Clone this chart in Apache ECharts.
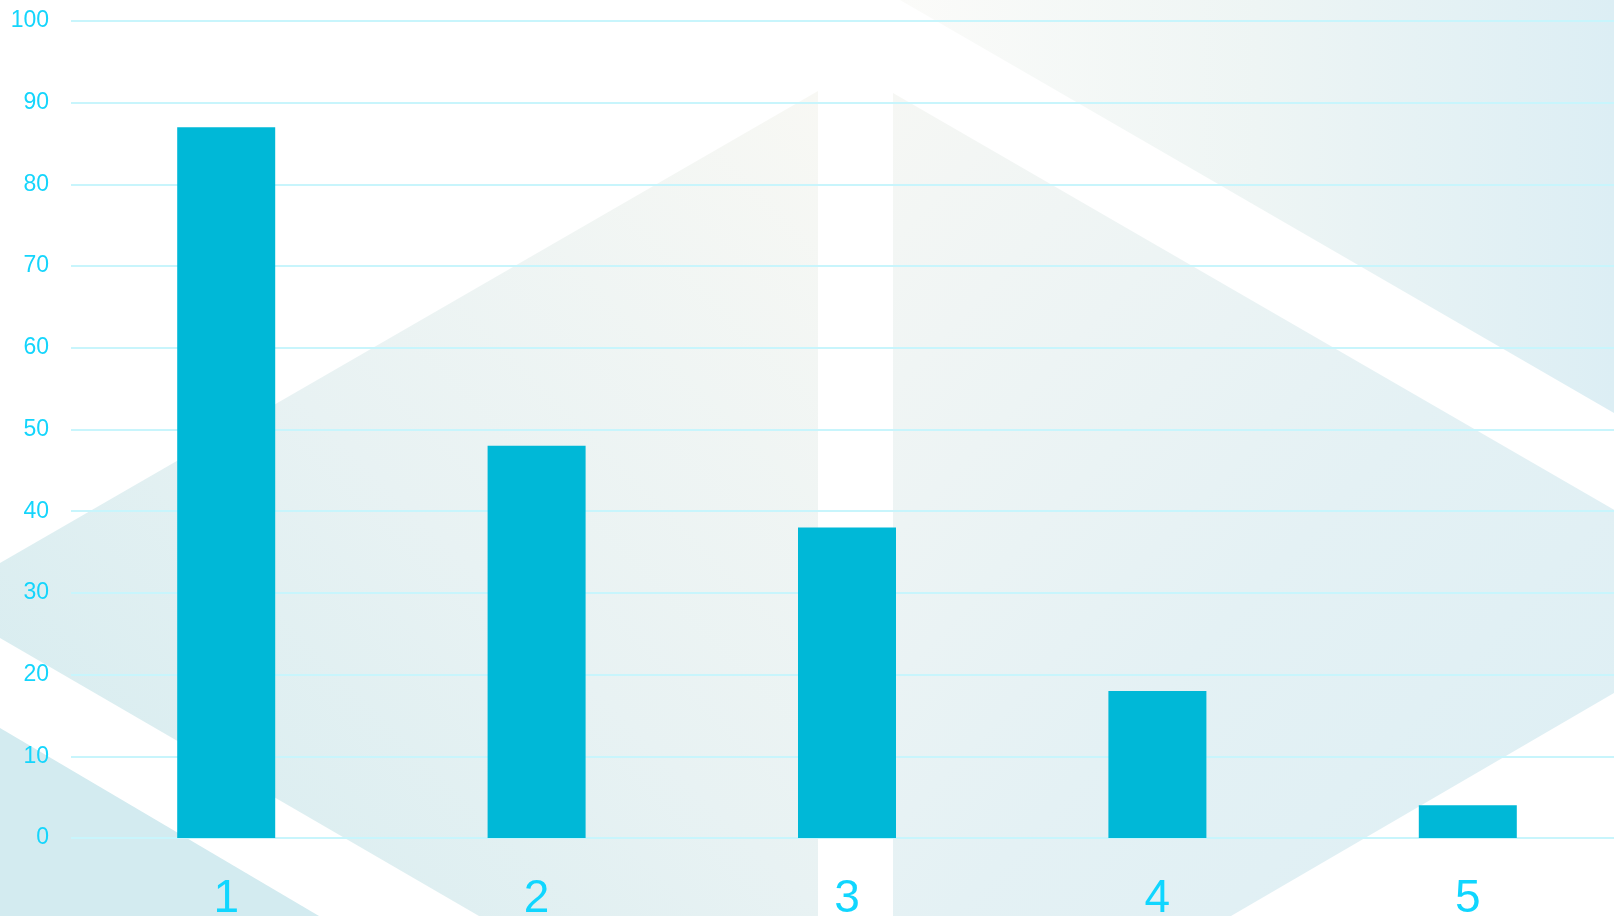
<!DOCTYPE html>
<html>
<head>
<meta charset="utf-8">
<script src="https://cdn.jsdelivr.net/npm/echarts@6/dist/echarts.min.js"></script>
<style>
  html, body { margin: 0; padding: 0; background: #fff; }
  #chart { width: 1614px; height: 916px; }
</style>
</head>
<body>
<div id="chart"></div>
<script>
// 数据
const categories = ['1', '2', '3', '4', '5']
const values = [87, 48, 38, 18, 4]
const yTicks = { min: 0, max: 100, interval: 10 }

const chart = echarts.init(document.getElementById('chart'))

const grad = (x, y, x2, y2, stops) => new echarts.graphic.LinearGradient(x, y, x2, y2,
  stops.map((c, i) => ({ offset: i / (stops.length - 1), color: c })))

// 背景装饰块
const bgShapes = [
  {
    type: 'polygon', z: -10, silent: true,
    shape: { points: [[0, 563], [818, 91], [818, 916], [479, 916], [0, 638]] },
    style: { fill: grad(1, 0, 0, 1, ['#f8f8f4', '#e8f2f3', '#d3ebef']) }
  },
  {
    type: 'polygon', z: -10, silent: true,
    shape: { points: [[0, 728], [0, 916], [319, 916]] },
    style: { fill: '#d3ebf0' }
  },
  {
    type: 'polygon', z: -10, silent: true,
    shape: { points: [[900, 0], [1614, 0], [1614, 413]] },
    style: { fill: grad(0, 0, 1, 0, ['#fbfbf9', '#eef5f4', '#dceef4']) }
  },
  {
    type: 'polygon', z: -10, silent: true,
    shape: { points: [[893, 93], [1772, 601], [1231, 916], [893, 916]] },
    style: { fill: grad(0, 0, 1, 1, ['#f6f7f4', '#e4f1f4', '#dbeef4']) }
  }
]

const option = {
  backgroundColor: '#fff',
  graphic: bgShapes,
  grid: {
    left: 71,
    right: -9,
    top: 21,
    bottom: 78,
    outerBoundsMode: 'none'
  },
  xAxis: {
    type: 'category',
    data: categories,
    axisLine: { show: false },
    axisTick: { show: false },
    axisLabel: {
      color: '#10d6ff',
      fontSize: 46,
      fontFamily: 'Liberation Sans',
      margin: 38
    }
  },
  yAxis: {
    type: 'value',
    min: yTicks.min,
    max: yTicks.max,
    interval: yTicks.interval,
    axisLine: { show: false },
    axisTick: { show: false },
    axisLabel: {
      color: '#14d5fc',
      fontSize: 23,
      fontFamily: 'Liberation Sans',
      margin: 22,
      padding: [4, 0, 0, 0]
    },
    splitLine: {
      lineStyle: { color: '#c8f5fc', width: 2 }
    }
  },
  series: [
    {
      type: 'bar',
      data: values,
      barWidth: 98,
      itemStyle: { color: '#00b8d7' }
    }
  ]
}

chart.setOption(option)
</script>
</body>
</html>
